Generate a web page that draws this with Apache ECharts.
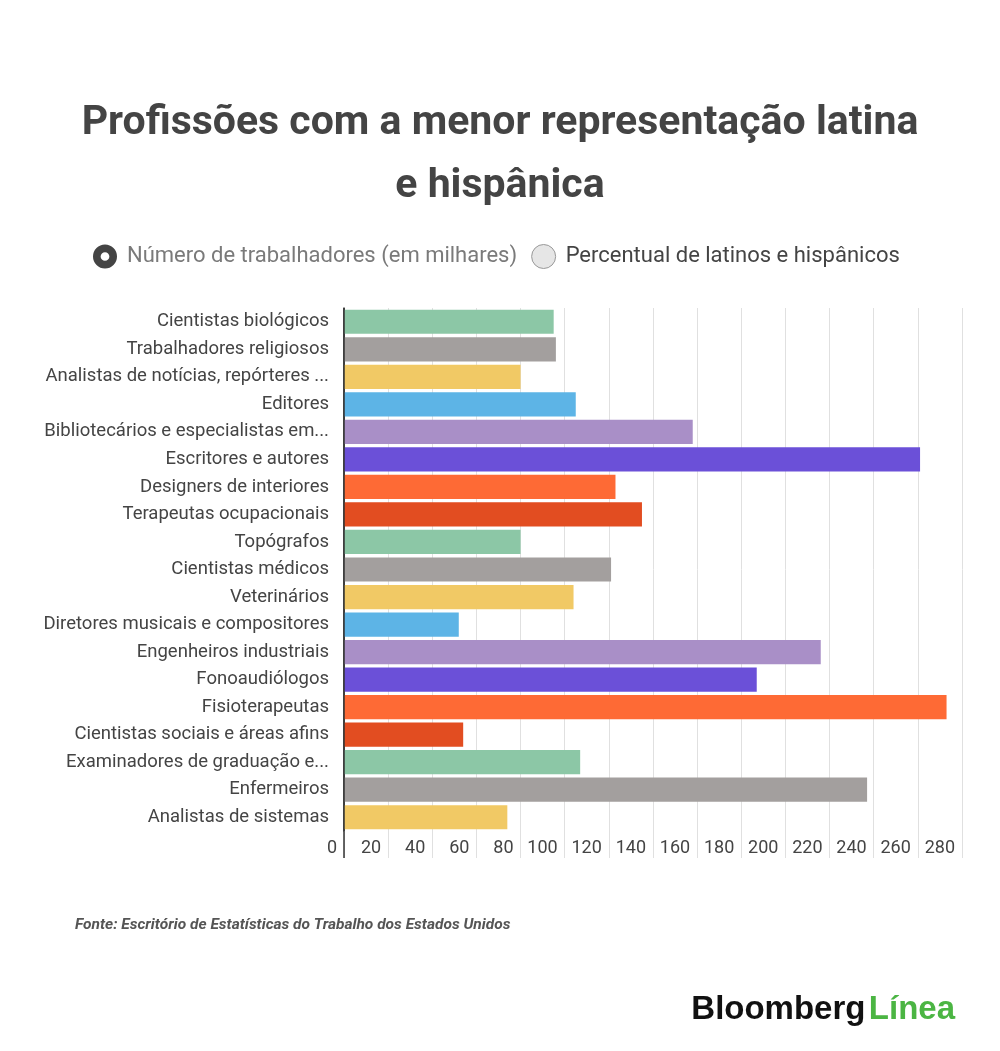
<!DOCTYPE html>
<html>
<head>
<meta charset="utf-8">
<title>Profissões com a menor representação latina e hispânica</title>
<script src="https://cdn.jsdelivr.net/npm/echarts@6/dist/echarts.min.js"></script>
<style>
  html, body { margin: 0; padding: 0; background: #fff; }
  #main { width: 1000px; height: 1051px; }
</style>
</head>
<body>
<div id="main"></div>
<script>
// profissões (de cima para baixo)
var categories = [
  'Cientistas biológicos',
  'Trabalhadores religiosos',
  'Analistas de notícias, repórteres ...',
  'Editores',
  'Bibliotecários e especialistas em...',
  'Escritores e autores',
  'Designers de interiores',
  'Terapeutas ocupacionais',
  'Topógrafos',
  'Cientistas médicos',
  'Veterinários',
  'Diretores musicais e compositores',
  'Engenheiros industriais',
  'Fonoaudiólogos',
  'Fisioterapeutas',
  'Cientistas sociais e áreas afins',
  'Examinadores de graduação e...',
  'Enfermeiros',
  'Analistas de sistemas'
];

// número de trabalhadores (em milhares)
var workers = [95, 96, 80, 105, 158, 261, 123, 135, 80, 121, 104, 52, 216, 187, 273, 54, 107, 237, 74];

// eixo x
var xMin = 0;
var xMax = 280;
var xStep = 20;

// cores das barras (repetem a cada 8)
var barColors = ['#8cc7a6', '#a39f9e', '#f1c965', '#5db4e6', '#a98fc7', '#6b50d8', '#fe6a35', '#e24d21'];

var seriesNames = ['Número de trabalhadores (em milhares)', 'Percentual de latinos e hispânicos'];

var font = 'Roboto, "Noto Sans", sans-serif';

// ícone de "radio" selecionado: círculo escuro com furo no meio
var radioOn = 'path://M0,11A11,11,0,1,1,22,11A11,11,0,1,1,0,11ZM7,11A4,4,0,1,0,15,11A4,4,0,1,0,7,11Z';

var chart = echarts.init(document.getElementById('main'));

var barData = workers.map(function (v, i) {
  return { value: v, itemStyle: { color: barColors[i % barColors.length] } };
});

var option = {
  backgroundColor: '#fff',
  animation: false,
  title: {
    text: 'Profissões com a menor representação latina\ne hispânica',
    left: 'center',
    top: 87,
    textStyle: {
      fontFamily: font,
      fontSize: 41,
      fontWeight: 'bold',
      color: '#444',
      lineHeight: 63
    }
  },
  legend: {
    top: 239,
    left: 88,
    itemWidth: 24,
    itemHeight: 24,
    itemGap: 14,
    selectedMode: false,
    textStyle: { fontFamily: font, fontSize: 22, color: '#444', padding: [0, 0, 0, 5] },
    data: [
      {
        name: seriesNames[0],
        icon: radioOn,
        itemStyle: { color: '#444' },
        textStyle: { color: '#7a7a7a' }
      },
      {
        name: seriesNames[1],
        icon: 'circle',
        itemStyle: { color: '#e6e6e6', borderColor: '#999', borderWidth: 1 },
        textStyle: { color: '#444' }
      }
    ]
  },
  grid: {
    left: 344,
    right: 38,
    top: 308,
    bottom: 220,
    containLabel: false
  },
  xAxis: {
    type: 'value',
    min: xMin,
    max: xMax,
    interval: xStep,
    axisLine: { show: false },
    axisTick: { show: true, length: 27, lineStyle: { color: '#e0e0e0' } },
    splitLine: { show: true, lineStyle: { color: '#e0e0e0' } },
    axisLabel: {
      margin: 8,
      align: 'right',
      padding: [0, 7, 0, 0],
      fontFamily: font,
      fontSize: 18,
      color: '#444'
    }
  },
  yAxis: {
    type: 'category',
    data: categories,
    inverse: true,
    axisLine: { show: true, lineStyle: { color: '#333', width: 1.5 } },
    axisTick: { show: false },
    axisLabel: {
      margin: 15,
      fontFamily: font,
      fontSize: 18.5,
      color: '#444'
    }
  },
  series: [
    {
      name: seriesNames[0],
      type: 'bar',
      data: barData,
      barCategoryGap: '12%'
    },
    {
      name: seriesNames[1],
      type: 'line',
      data: []
    }
  ],
  graphic: [
    {
      type: 'text',
      left: 75,
      top: 917,
      style: {
        text: 'Fonte: Escritório de Estatísticas do Trabalho dos Estados Unidos',
        font: 'italic bold 15.5px ' + font,
        fill: '#555'
      }
    },
    {
      type: 'text',
      right: 45,
      top: 993,
      style: {
        text: '{b|Bloomberg} {l|Línea}',
        rich: {
          b: { fontFamily: '"Liberation Sans", Arial, sans-serif', fontSize: 33, fontWeight: 'bold', fill: '#111' },
          l: { fontFamily: '"Liberation Sans", Arial, sans-serif', fontSize: 33, fontWeight: 'bold', fill: '#4bb543' }
        }
      }
    }
  ]
};

chart.setOption(option);

// linha escura do eixo continua até a altura dos rótulos
var p0 = chart.convertToPixel({ gridIndex: 0 }, [xMin, categories.length - 1]);
var gridRect = chart.getModel().getComponent('grid').coordinateSystem.getRect();
chart.setOption({
  graphic: option.graphic.concat([{
    type: 'line',
    shape: { x1: p0[0], y1: gridRect.y, x2: p0[0], y2: gridRect.y + gridRect.height + 27 },
    style: { stroke: '#333', lineWidth: 1.5 },
    z: 10
  }])
});
</script>
</body>
</html>
